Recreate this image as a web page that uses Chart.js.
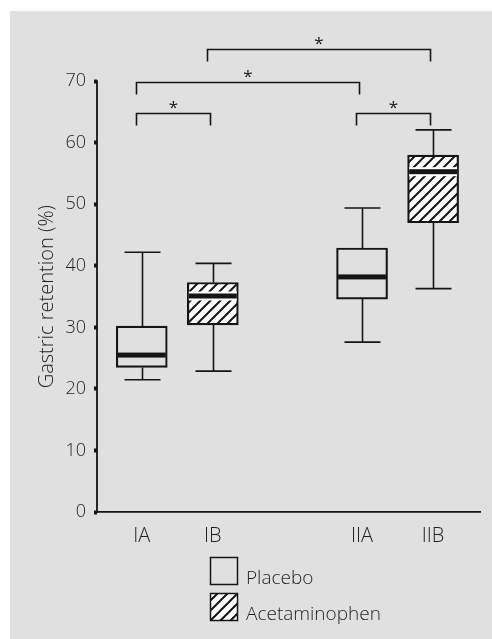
<!DOCTYPE html>
<html>
<head>
<meta charset="utf-8">
<script src="https://cdn.jsdelivr.net/npm/chart.js@4/dist/chart.umd.min.js"></script>
<style>
  html, body { margin: 0; padding: 0; background: #ffffff; }
  #panel { position: absolute; left: 10px; top: 11px; width: 482px; height: 628px; background: #e0e0e0; }
  canvas { display: block; }
</style>
</head>
<body>
<div id="panel"><canvas id="chart" width="482" height="628"></canvas></div>
<script>
// グループ（箱ひげ図）
const groups = ['IA', 'IB', 'IIA', 'IIB'];
const groupPos = [1, 2, 4.1, 5.1];
const treatment = ['Placebo', 'Acetaminophen', 'Placebo', 'Acetaminophen'];
const whiskerLow = [21.5, 22.9, 27.6, 36.3];
const q1 = [23.5, 30.4, 34.6, 47.0];
const median = [25.5, 35.1, 38.2, 55.3];
const q3 = [30.2, 37.3, 42.9, 58.0];
const whiskerHigh = [42.2, 40.4, 49.4, 62.1];

const yTicks = [0, 10, 20, 30, 40, 50, 60, 70];
const yTitle = 'Gastric retention (%)';
const legendLabels = ['Placebo', 'Acetaminophen'];

// 有意差ブラケット
const bracketFrom = ['IA', 'IA', 'IB', 'IIA'];
const bracketTo = ['IB', 'IIA', 'IIB', 'IIB'];
const bracketLevel = [64.9, 69.8, 75.2, 64.9];
const bracketMark = ['*', '*', '*', '*'];

const ink = '#151515';
const textColor = '#1f1f1f';
const fontFamily = "'Open Sans', 'Liberation Sans', sans-serif";

function makeHatch() {
    const c = document.createElement('canvas');
    c.width = 10; c.height = 10;
    const g = c.getContext('2d');
    g.fillStyle = '#ffffff';
    g.fillRect(0, 0, 10, 10);
    g.strokeStyle = ink;
    g.lineWidth = 2;
    g.beginPath();
    g.moveTo(-2, 12); g.lineTo(12, -2);
    g.moveTo(-2, 2); g.lineTo(2, -2);
    g.moveTo(8, 12); g.lineTo(12, 8);
    g.stroke();
    return g.createPattern(c, 'repeat');
}
const hatch = makeHatch();
const fillFor = t => t === 'Acetaminophen' ? hatch : 'rgba(0,0,0,0)';

// ひげ・中央値・ブラケット・凡例の描画
const boxPlugin = {
    id: 'boxExtras',
    beforeDatasetsDraw(chart) {
        const { ctx, scales: { x, y } } = chart;
        ctx.save();
        ctx.strokeStyle = ink;
        ctx.lineWidth = 1.6;
        groups.forEach((g, i) => {
            const px = Math.round(x.getPixelForValue(groupPos[i])) + 0.5;
            const cap = 18;
            ctx.beginPath();
            ctx.moveTo(px, y.getPixelForValue(whiskerLow[i]));
            ctx.lineTo(px, y.getPixelForValue(q1[i]));
            ctx.moveTo(px, y.getPixelForValue(q3[i]));
            ctx.lineTo(px, y.getPixelForValue(whiskerHigh[i]));
            ctx.moveTo(px - cap, y.getPixelForValue(whiskerLow[i]));
            ctx.lineTo(px + cap, y.getPixelForValue(whiskerLow[i]));
            ctx.moveTo(px - cap, y.getPixelForValue(whiskerHigh[i]));
            ctx.lineTo(px + cap, y.getPixelForValue(whiskerHigh[i]));
            ctx.stroke();
        });
        ctx.restore();
    },
    afterDatasetsDraw(chart) {
        const { ctx, scales: { x, y } } = chart;
        const meta = chart.getDatasetMeta(0);
        ctx.save();
        groups.forEach((g, i) => {
            const bar = meta.data[i];
            const left = bar.x - bar.width / 2 + 1.5;
            const w = bar.width - 3;
            const py = y.getPixelForValue(median[i]);
            if (treatment[i] === 'Acetaminophen') {
                ctx.fillStyle = '#ffffff';
                ctx.fillRect(left, py - 4.5, w, 9);
            }
            ctx.fillStyle = ink;
            ctx.fillRect(left, py - 2.5, w, 5);
        });

        // y軸線（0〜70のみ）
        ctx.strokeStyle = ink;
        ctx.lineWidth = 1.8;
        ctx.beginPath();
        ctx.moveTo(chart.chartArea.left, y.getPixelForValue(yTicks[0]) + 1);
        ctx.lineTo(chart.chartArea.left, y.getPixelForValue(yTicks[yTicks.length - 1]) - 1);
        ctx.stroke();

        // ブラケット
        ctx.lineWidth = 1.6;
        ctx.font = `17px ${fontFamily}`;
        ctx.textAlign = 'center';
        ctx.textBaseline = 'alphabetic';
        bracketFrom.forEach((from, i) => {
            const x1 = Math.round(x.getPixelForValue(groupPos[groups.indexOf(from)])) - 5.5;
            const x2 = Math.round(x.getPixelForValue(groupPos[groups.indexOf(bracketTo[i])])) - 2.5;
            const py = Math.round(y.getPixelForValue(bracketLevel[i])) + 0.5;
            ctx.beginPath();
            ctx.moveTo(x1, py + 12);
            ctx.lineTo(x1, py);
            ctx.lineTo(x2, py);
            ctx.lineTo(x2, py + 12);
            ctx.stroke();
            ctx.fillStyle = ink;
            ctx.fillText(bracketMark[i], (x1 + x2) / 2, py - 1);
        });

        // y軸タイトル
        ctx.save();
        ctx.fillStyle = textColor;
        ctx.font = `300 20px ${fontFamily}`;
        ctx.translate(43, (y.getPixelForValue(yTicks[0]) + y.getPixelForValue(yTicks[yTicks.length - 1])) / 2);
        ctx.rotate(-Math.PI / 2);
        ctx.textAlign = 'center';
        ctx.textBaseline = 'alphabetic';
        ctx.fillText(yTitle, 0, 0);
        ctx.restore();

        // 凡例
        const lx = chart.chartArea.left + 113;
        const ly = chart.chartArea.bottom + 45;
        ctx.font = `300 19px ${fontFamily}`;
        ctx.textAlign = 'left';
        legendLabels.forEach((label, i) => {
            const top = ly + i * 36;
            ctx.fillStyle = fillFor(label);
            ctx.fillRect(lx, top, 28, 28);
            ctx.strokeStyle = ink;
            ctx.lineWidth = 1.5;
            ctx.strokeRect(lx + 0.5, top + 0.5, 27, 27);
            ctx.fillStyle = textColor;
            ctx.fillText(label, lx + 36, top + 27);
        });
        ctx.restore();
    }
};

new Chart(document.getElementById('chart'), {
    type: 'bar',
    data: {
        labels: groups,
        datasets: [{
            label: 'box',
            data: groups.map((g, i) => ({ x: groupPos[i], y: [q1[i], q3[i]] })),
            backgroundColor: treatment.map(fillFor),
            borderColor: ink,
            borderWidth: treatment.map(t => t === 'Acetaminophen' ? 2.2 : 1.5),
            borderSkipped: false,
            barThickness: 51
        }]
    },
    options: {
        responsive: false,
        animation: false,
        devicePixelRatio: 1,
        layout: { padding: { top: 21, right: 12, bottom: 87, left: 0 } },
        plugins: { legend: { display: false }, tooltip: { enabled: false } },
        scales: {
            x: {
                type: 'linear',
                offset: false,
                min: 0.37,
                max: 5.76,
                afterFit: scale => { scale.height = 40; },
                afterBuildTicks: scale => { scale.ticks = groupPos.map(v => ({ value: v })); },
                grid: { display: false, drawTicks: false, offset: false },
                border: { display: true, color: ink, width: 1.8 },
                ticks: {
                    padding: 12,
                    color: textColor,
                    font: { family: fontFamily, size: 20, weight: '300' },
                    callback: v => groups[groupPos.indexOf(v)] ?? ''
                }
            },
            y: {
                min: 0,
                max: 78,
                afterFit: scale => { scale.width = 87; },
                afterBuildTicks: scale => { scale.ticks = yTicks.map(v => ({ value: v })); },
                grid: {
                    display: true,
                    drawOnChartArea: false,
                    drawTicks: true,
                    tickLength: 3,
                    tickWidth: 4,
                    tickColor: ink
                },
                border: { display: false },
                ticks: {
                    padding: 8,
                    color: textColor,
                    font: { family: fontFamily, size: 18, weight: '300' }
                }
            }
        }
    },
    plugins: [boxPlugin]
});
</script>
</body>
</html>
